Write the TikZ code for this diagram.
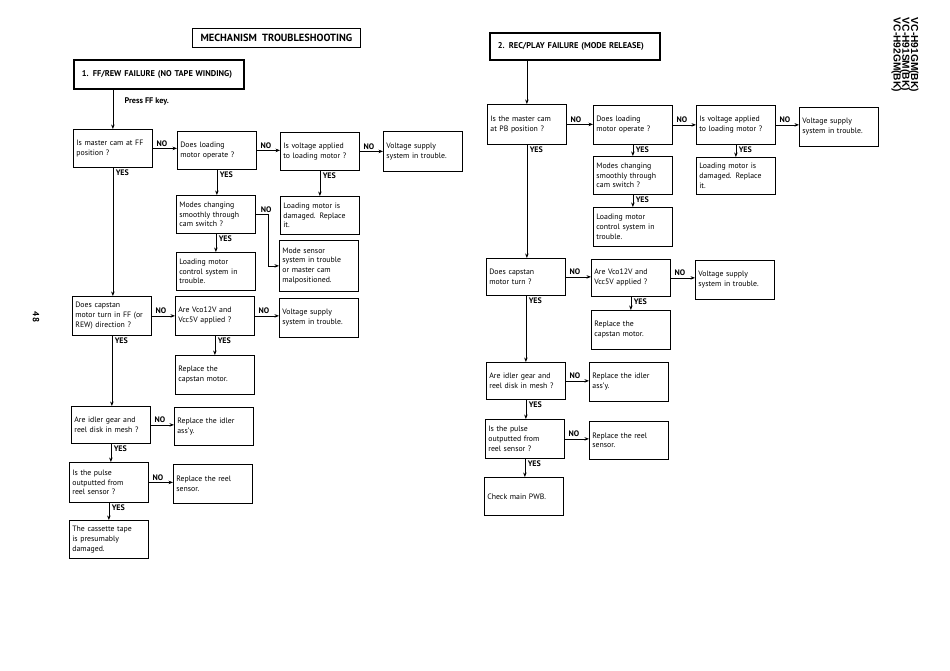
\documentclass[tikz,border=0pt]{standalone}
\usepackage{fontspec}
\setmainfont{PT Sans}
\newfontfamily\modelfont[BoldFont={Liberation Sans Bold}]{Liberation Sans}
\usepackage{tikz}
\usetikzlibrary{arrows.meta}

\tikzset{
	chart/.style = {draw, rectangle, anchor=north west, line width=0.75pt, align=left,
		inner xsep=3pt, text width=73pt, minimum height=38pt, font=\fontsize{7.8}{9.8}\selectfont},
	headbox/.style = {draw, rectangle, anchor=north west, line width=1.6pt, align=left,
		inner xsep=8pt, text width=154pt, font=\bfseries\fontsize{8.4}{9}\selectfont},
	ans/.style = {font=\bfseries\fontsize{8}{8}\selectfont, inner sep=1.5pt},
}

\begin{document}
\begin{tikzpicture}[x=1pt, y=-1pt]
	\useasboundingbox (0,0) rectangle (950,670);
	\fill [white] (0,0) rectangle (950,670);

	% page number and models
	\node [rotate=-90, font=\bfseries\fontsize{9}{9}\selectfont] (page) at (36,317) {48};
	\node [rotate=-90, align=left, inner sep=0pt,
		font={\modelfont\fontsize{10.2}{8.8}\selectfont\bfseries\lineskiplimit-20pt\relax}] (models) at (905,55)
		{VC-H91GM(BK)\\VC-H91SM(BK)\\VC-H92GM(BK)};

	% titles
	\node [draw, rectangle, anchor=north west, line width=0.9pt, minimum width=168pt,
		minimum height=19pt, font=\bfseries\fontsize{10.4}{10}\selectfont] (title) at (192,28)
		{MECHANISM\ \ TROUBLESHOOTING};
	\node [headbox, minimum height=29pt] (hdrA) at (73,59) {1. FF/REW FAILURE (NO TAPE WINDING)};
	\node [headbox, minimum height=27pt] (hdrB) at (489,32) {2. REC/PLAY FAILURE (MODE RELEASE)};

	% 1. FF/REW failure
	\begin{scope}[every node/.style = {chart}]
		\node (camA)   at (73,129)  {Is master cam at FF\\position ?};
		\node (loadA)  at (177,131) {Does loading\\motor operate ?};
		\node (voltA)  at (280,132) {Is voltage applied\\to loading motor ?};
		\node (supA)   at (383,131) [minimum height=40pt] {Voltage supply\\system in trouble.};
		\node (modesA) at (176,195) {Modes changing\\smoothly through\\cam switch ?};
		\node (dmgA)   at (280,196) {Loading motor is\\damaged. Replace\\it.};
		\node (sensA)  at (279,240) [minimum height=51pt] {Mode sensor\\system in trouble\\or master cam\\malpositioned.};
		\node (ctrlA)  at (176,252) {Loading motor\\control system in\\trouble.};
		\node (capA)   at (72,296)  [minimum height=39pt] {Does capstan\\motor turn in FF (or\\REW) direction ?};
		\node (vccA)   at (175,296) [minimum height=39pt] {Are Vco12V and\\Vcc5V applied ?};
		\node (sup2A)  at (279,298) [minimum height=39pt] {Voltage supply\\system in trouble.};
		\node (repcA)  at (175,355) [minimum height=39pt] {Replace the\\capstan motor.};
		\node (idlA)   at (71,406)  [minimum height=37pt] {Are idler gear and\\reel disk in mesh ?};
		\node (repiA)  at (174,407) {Replace the idler\\ass'y.};
		\node (pulA)   at (69,462)  [minimum height=40pt] {Is the pulse\\outputted from\\reel sensor ?};
		\node (reprA)  at (173,464) [minimum height=39pt] {Replace the reel\\sensor.};
		\node (casA)   at (69,520)  {The cassette tape\\is presumably\\damaged.};
	\end{scope}

	% 2. REC/PLAY failure
	\begin{scope}[every node/.style = {chart}]
		\node (camB)   at (487,104) [minimum height=40pt] {Is the master cam\\at PB position ?};
		\node (loadB)  at (593,105) [minimum height=39pt] {Does loading\\motor operate ?};
		\node (voltB)  at (696,105) [minimum height=39pt] {Is voltage applied\\to loading motor ?};
		\node (supB)   at (799,107) [minimum height=39pt] {Voltage supply\\system in trouble.};
		\node (modesB) at (593,156) {Modes changing\\smoothly through\\cam switch ?};
		\node (dmgB)   at (696,157) [minimum height=37pt] {Loading motor is\\damaged. Replace\\it.};
		\node (ctrlB)  at (593,207) [minimum height=39pt] {Loading motor\\control system in\\trouble.};
		\node (capB)   at (486,258) [minimum height=37pt] {Does capstan\\motor turn ?};
		\node (vccB)   at (591,259) [minimum height=37pt] {Are Vco12V and\\Vcc5V applied ?};
		\node (sup2B)  at (695,260) [minimum height=39pt] {Voltage supply\\system in trouble.};
		\node (repcB)  at (591,310) [minimum height=39pt] {Replace the\\capstan motor.};
		\node (idlB)   at (486,362) [minimum height=37pt] {Are idler gear and\\reel disk in mesh ?};
		\node (repiB)  at (589,362) [minimum height=39pt] {Replace the idler\\ass'y.};
		\node (pulB)   at (485,419) [minimum height=39pt] {Is the pulse\\outputted from\\reel sensor ?};
		\node (reprB)  at (589,421) {Replace the reel\\sensor.};
		\node (chkB)   at (484,477) {Check main PWB.};
	\end{scope}

	\begin{scope}[>={Stealth[length=4.5pt, width=3.5pt]},
			every edge/.style={draw=black, line width=0.75pt},
			no/.style={ans, anchor=south west, pos=0, xshift=2pt},
			yes/.style={ans, anchor=north west, pos=0, xshift=1pt}]
		% left chart
		\path [->] (camA.north |- hdrA.south) edge node [right=8pt, pos=0.3, font=\bfseries\fontsize{8.2}{8}\selectfont] {Press FF key.} (camA.north);
		\path [->] (camA.east)   edge node [no] {NO} (camA.east -| loadA.west);
		\path [->] (loadA.east)  edge node [no] {NO} (loadA.east -| voltA.west);
		\path [->] (voltA.east)  edge node [no] {NO} (voltA.east -| supA.west);
		\path [->] (loadA.south) edge node [yes] {YES} (loadA.south |- modesA.north);
		\path [->] (voltA.south) edge node [yes] {YES} (voltA.south |- dmgA.north);
		\path [->] (modesA.south) edge node [yes] {YES} (modesA.south |- ctrlA.north);
		\draw [->, line width=0.75pt] (modesA.east) -- node [ans, anchor=south, pos=0.8] {NO} ++(13,0) |- (sensA.west);
		\path [->] (camA.south)  edge node [yes] {YES} (camA.south |- capA.north);
		\path [->] (capA.east)   edge node [no] {NO} (capA.east -| vccA.west);
		\path [->] (vccA.east)   edge node [no] {NO} (vccA.east -| sup2A.west);
		\path [->] (vccA.south)  edge node [yes] {YES} (vccA.south |- repcA.north);
		\path [->] (capA.south)  edge node [yes] {YES} (capA.south |- idlA.north);
		\path [->] (idlA.east)   edge node [no] {NO} (idlA.east -| repiA.west);
		\path [->] (idlA.south)  edge node [yes] {YES} (idlA.south |- pulA.north);
		\path [->] (pulA.east)   edge node [no] {NO} (pulA.east -| reprA.west);
		\path [->] (pulA.south)  edge node [yes] {YES} (pulA.south |- casA.north);
		% right chart
		\path [->] (camB.north |- hdrB.south) edge (camB.north);
		\path [->] (camB.east)   edge node [no] {NO} (camB.east -| loadB.west);
		\path [->] (loadB.east)  edge node [no] {NO} (loadB.east -| voltB.west);
		\path [->] (voltB.east)  edge node [no] {NO} (voltB.east -| supB.west);
		\path [->] (loadB.south) edge node [yes] {YES} (loadB.south |- modesB.north);
		\path [->] (voltB.south) edge node [yes] {YES} (voltB.south |- dmgB.north);
		\path [->] (modesB.south) edge node [yes] {YES} (modesB.south |- ctrlB.north);
		\path [->] (camB.south)  edge node [yes] {YES} (camB.south |- capB.north);
		\path [->] (capB.east)   edge node [no] {NO} (capB.east -| vccB.west);
		\path [->] (vccB.east)   edge node [no] {NO} (vccB.east -| sup2B.west);
		\path [->] (vccB.south)  edge node [yes] {YES} (vccB.south |- repcB.north);
		\path [->] (capB.south)  edge node [yes] {YES} (capB.south |- idlB.north);
		\path [->] (idlB.east)   edge node [no] {NO} (idlB.east -| repiB.west);
		\path [->] (idlB.south)  edge node [yes] {YES} (idlB.south |- pulB.north);
		\path [->] (pulB.east)   edge node [no] {NO} (pulB.east -| reprB.west);
		\path [->] (pulB.south)  edge node [yes] {YES} (pulB.south |- chkB.north);
	\end{scope}
\end{tikzpicture}
\end{document}
